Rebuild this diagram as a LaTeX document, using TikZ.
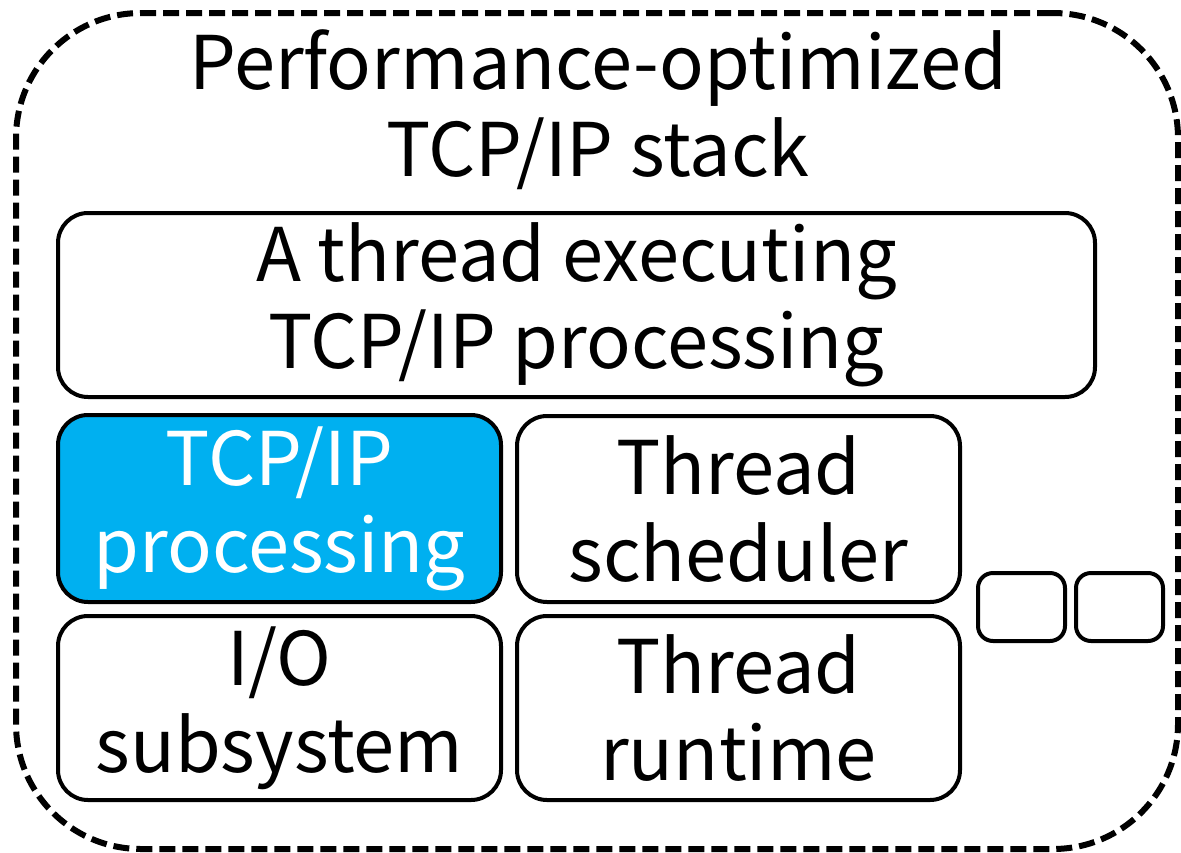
\documentclass[tikz,border=0pt]{standalone}
\usepackage{fontspec}
\setmainfont{Noto Sans CJK JP}
\definecolor{procblue}{HTML}{00B0F0}
\begin{document}
\begin{tikzpicture}[x=1pt,y=-1pt,
  bigtext/.style={font=\fontsize{74}{87}\selectfont, align=center},
  frame/.style={draw=black, line width=6pt, dash pattern=on 16pt off 7pt, rounded corners=125pt, inner sep=0pt},
  unit/.style={draw=black, line width=4pt, rounded corners=30pt, inner sep=0pt, bigtext},
  slot/.style={draw=black, line width=4pt, rounded corners=15pt, inner sep=0pt, minimum width=87pt, minimum height=68pt}]
\useasboundingbox (0,0) rectangle (1181,852);

% outer dashed boundary of the stack
\node[frame, minimum width=1162pt, minimum height=836pt] (stack) at (597,431) {};
\node[bigtext] (title) at (598,110) {Performance-optimized\\TCP/IP stack};

% thread that runs the protocol processing
\node[unit, minimum width=1037pt, minimum height=184pt] (thread) at (576.5,305)
  {A thread executing\\TCP/IP processing};

% components
\node[unit, fill=procblue, text=white, minimum width=443pt, minimum height=187pt] (tcpip) at (279.5,508.5)
  {TCP/IP\\processing};
\node[unit, minimum width=443pt, minimum height=186pt] (sched) at (738.5,509)
  {Thread\\scheduler};
\node[unit, minimum width=443pt, minimum height=184pt] (io) at (279.5,708)
  {I/O\\subsystem};
\node[unit, minimum width=443pt, minimum height=184pt] (runtime) at (738.5,708)
  {Thread\\runtime};

% empty slots
\node[slot] (slotA) at (1021.5,607) {};
\node[slot] (slotB) at (1119.5,607) {};
\end{tikzpicture}
\end{document}
